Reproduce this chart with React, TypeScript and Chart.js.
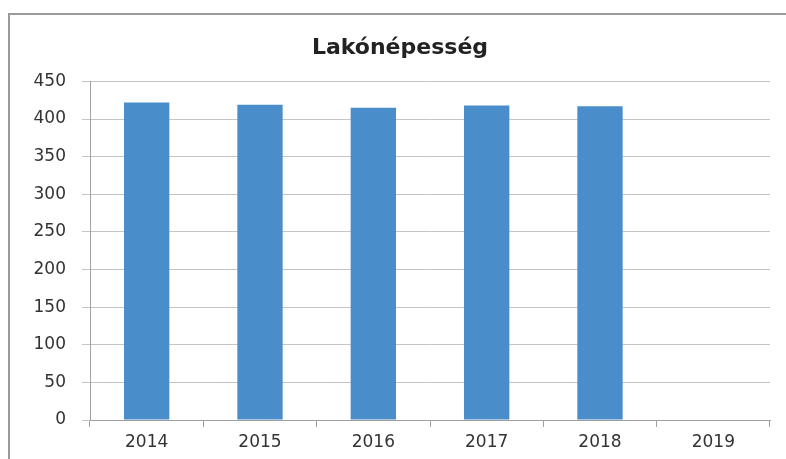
import React, { useEffect, useRef } from "react";
import { Chart, registerables } from "chart.js";

Chart.register(...registerables);

const categories = ["2014", "2015", "2016", "2017", "2018", "2019"];
const population: (number | null)[] = [422, 419, 415, 418, 417, null];
const yTicks = [0, 50, 100, 150, 200, 250, 300, 350, 400, 450];
const title = "Lakónépesség";

const framePlugin = {
  id: "frame",
  beforeDraw(chart: any) {
    const ctx = chart.ctx;
    ctx.save();
    ctx.fillStyle = "#ffffff";
    ctx.fillRect(0, 0, chart.width, chart.height);
    ctx.strokeStyle = "#9a9a9a";
    ctx.lineWidth = 2;
    ctx.beginPath();
    ctx.moveTo(9, chart.height);
    ctx.lineTo(9, 14);
    ctx.lineTo(chart.width, 14);
    ctx.stroke();
    ctx.restore();
  },
};

export default function App() {
  const ref = useRef<HTMLCanvasElement>(null);
  useEffect(() => {
    document.body.style.margin = "0";
    const chart = new Chart(ref.current!, {
      type: "bar",
      data: {
        labels: categories,
        datasets: [
          {
            data: population,
            backgroundColor: "#4a8dcb",
            borderWidth: 0,
            categoryPercentage: 1,
            barPercentage: 0.4,
          },
        ],
      },
      options: {
        responsive: false,
        animation: false,
        layout: { padding: { left: 30, right: 16, top: 0, bottom: 0 } },
        plugins: {
          legend: { display: false },
          tooltip: { enabled: false },
          title: {
            display: true,
            text: title,
            color: "#222222",
            font: { family: "DejaVu Sans", size: 22, weight: "bold" },
            padding: { top: 35, bottom: 20 },
          },
        },
        scales: {
          x: {
            grid: {
              drawOnChartArea: false,
              drawTicks: true,
              tickLength: 7,
              color: "#a0a0a0",
              offset: true,
            },
            border: { display: true, color: "#a0a0a0", width: 1 },
            ticks: {
              color: "#333333",
              font: { family: "DejaVu Sans", size: 17 },
              padding: 5,
              maxRotation: 0,
            },
            afterFit(scale: any) {
              scale.height = 39;
            },
          },
          y: {
            min: 0,
            max: 450,
            afterBuildTicks(scale: any) {
              scale.ticks = yTicks.map((v) => ({ value: v }));
            },
            grid: {
              color: "#c4c4c4",
              tickLength: 8,
              lineWidth: 1,
            },
            border: { display: true, color: "#a0a0a0", width: 1 },
            ticks: {
              color: "#333333",
              font: { family: "DejaVu Sans", size: 17 },
              padding: 16,
            },
            afterFit(scale: any) {
              scale.width = 60;
            },
          },
        },
      },
      plugins: [framePlugin],
    });
    return () => chart.destroy();
  }, []);
  return <canvas ref={ref} width={786} height={459} style={{ display: "block" }} />;
}
